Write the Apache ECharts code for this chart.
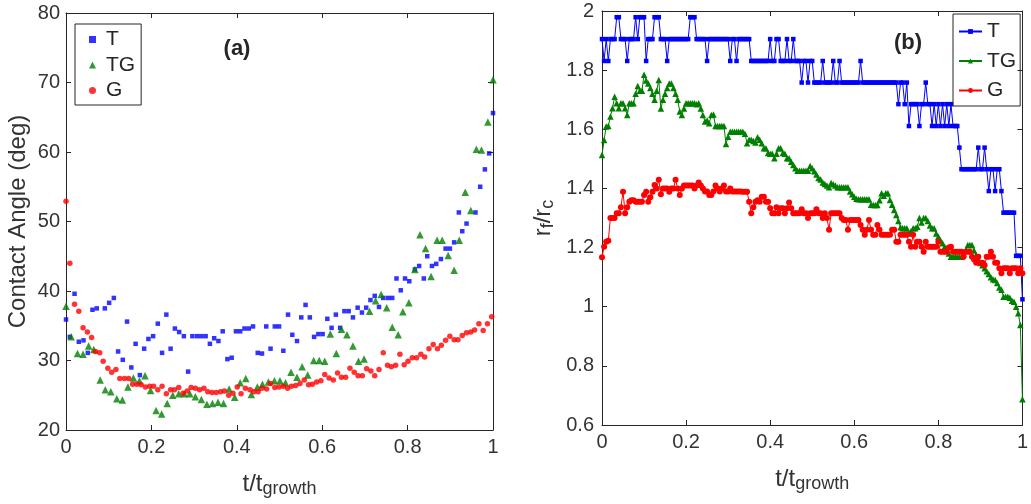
<!DOCTYPE html>
<html><head><meta charset="utf-8">
<script src="https://cdn.jsdelivr.net/npm/echarts@6/dist/echarts.min.js"></script>
<style>html,body{margin:0;padding:0;background:#fff}#c{width:1031px;height:504px}</style>
</head><body><div id="c"></div>
<script>
// ---------- Panel (a): contact angle (deg) vs t/t_growth ----------
const aT_x = [0,0.009,0.020,0.030,0.041,0.051,0.062,0.072,0.091,0.101,0.112,0.122,0.133,0.143,0.153,0.163,0.173,0.183,0.193,0.204,0.215,0.225,0.235,0.245,0.255,0.265,0.276,0.286,0.296,0.307,0.317,0.327,0.337,0.347,0.357,0.367,0.378,0.388,0.398,0.408,0.418,0.428,0.438,0.449,0.459,0.469,0.479,0.489,0.499,0.509,0.520,0.530,0.541,0.551,0.561,0.571,0.581,0.591,0.601,0.612,0.622,0.632,0.642,0.652,0.662,0.672,0.683,0.693,0.703,0.713,0.723,0.733,0.743,0.754,0.764,0.774,0.784,0.794,0.804,0.817,0.827,0.838,0.846,0.857,0.867,0.878,0.889,0.899,0.909,0.920,0.928,0.938,0.959,0.970,0.981,0.991,1.0];
const aT_y = [35.9,33.4,39.6,32.7,32.9,31.1,37.3,37.5,37.5,38.3,39.0,31.3,30.1,35.6,29.0,32.4,27.9,31.7,33.1,33.5,35.3,31.1,36.6,31.7,34.6,34.1,33.5,28.4,33.5,33.5,33.5,33.5,32.4,33.2,32.8,34.2,30.2,30.4,34.2,34.2,34.6,34.6,34.9,31.1,31.0,34.9,31.7,34.9,34.9,31.4,36.6,33.7,32.8,36.2,38.0,36.2,33.4,33.8,33.8,36.0,34.7,36.6,34.7,37.1,37.1,36.2,37.6,36.9,37.6,38.7,39.3,37.7,39.0,39.0,39.0,41.8,40.1,41.8,41.4,43.1,43.6,41.8,45.0,43.6,43.9,44.6,46.1,46.1,47.0,51.3,48.6,49.7,51.3,55.0,57.5,59.8,65.6];
const aTG_x = [0,0.012,0.027,0.040,0.053,0.065,0.080,0.092,0.105,0.119,0.132,0.145,0.158,0.172,0.185,0.198,0.211,0.224,0.237,0.250,0.264,0.277,0.290,0.303,0.317,0.330,0.343,0.356,0.369,0.382,0.395,0.408,0.421,0.434,0.448,0.460,0.474,0.488,0.501,0.514,0.527,0.541,0.553,0.566,0.580,0.593,0.606,0.619,0.633,0.645,0.658,0.672,0.685,0.698,0.711,0.725,0.738,0.751,0.764,0.778,0.789,0.803,0.817,0.829,0.842,0.855,0.869,0.881,0.895,0.909,0.921,0.935,0.948,0.961,0.973,0.988,1.0];
const aTG_y = [37.8,33.4,31.0,30.9,32.1,31.6,27.2,25.8,25.5,24.5,24.3,26.2,27.5,27.1,27.8,25.7,22.8,22.3,23.8,25.0,25.2,25.2,25.2,24.8,24.4,23.7,23.8,24.0,23.8,25.9,24.7,26.8,27.4,25.1,26.2,26.6,26.9,27.1,27.1,26.8,28.3,27.6,29.1,27.9,30.0,30.0,29.9,33.8,31.0,34.5,33.7,32.1,29.9,30.2,37.1,38.6,39.5,37.6,34.8,33.7,37.0,38.3,43.1,48.1,46.1,42.1,47.3,47.3,45.1,43.0,47.3,54.2,51.6,60.4,60.3,64.3,70.4];
const aG_x = [0,0.009,0.020,0.030,0.040,0.050,0.060,0.069,0.079,0.087,0.098,0.107,0.117,0.126,0.137,0.147,0.156,0.166,0.176,0.186,0.196,0.205,0.215,0.225,0.235,0.245,0.254,0.264,0.274,0.284,0.293,0.303,0.313,0.323,0.332,0.342,0.352,0.362,0.371,0.381,0.391,0.401,0.410,0.420,0.431,0.440,0.450,0.459,0.470,0.479,0.489,0.499,0.509,0.519,0.528,0.538,0.548,0.558,0.568,0.577,0.587,0.597,0.606,0.616,0.626,0.636,0.645,0.655,0.665,0.675,0.684,0.694,0.704,0.714,0.723,0.733,0.743,0.753,0.762,0.772,0.782,0.792,0.801,0.811,0.821,0.831,0.840,0.850,0.860,0.870,0.879,0.889,0.899,0.909,0.918,0.928,0.938,0.948,0.957,0.967,0.977,0.987,0.997];
const aG_y = [52.9,44.0,38.1,37.1,34.7,34.1,33.3,31.3,31.1,29.9,28.9,28.3,28.7,27.4,27.4,27.4,26.6,26.6,26.5,26.2,26.3,26.3,25.8,26.3,25.2,25.8,25.8,26.1,25.3,25.6,26.1,26.0,25.8,26.0,25.5,25.4,25.4,25.5,25.6,25.0,25.3,26.2,25.2,26.0,25.8,25.5,25.5,26.0,25.9,26.7,26.1,26.2,26.3,26.0,26.3,26.4,26.7,27.2,26.5,26.6,26.9,27.1,28.0,27.5,27.2,28.2,27.6,27.6,28.9,28.3,27.8,27.8,28.8,28.5,27.8,28.7,31.1,29.3,29.1,29.3,30.9,29.4,29.9,30.4,30.4,30.9,30.5,31.7,32.3,31.7,32.2,32.9,33.5,33.0,33.0,33.6,34.0,34.1,34.4,35.3,34.3,35.3,36.3];

// ---------- Panel (b): r_f/r_c vs t/t_growth (201 samples, 0..1) ----------
const bT = [
1.905,1.831,1.905,1.831,1.905,1.905,1.905,1.979,1.979,1.905,
1.905,1.905,1.831,1.905,1.905,1.905,1.979,1.905,1.979,1.979,
1.979,1.831,1.905,1.905,1.905,1.979,1.979,1.979,1.905,1.905,
1.905,1.831,1.905,1.905,1.905,1.905,1.905,1.905,1.905,1.905,
1.905,1.905,1.979,1.979,1.979,1.905,1.905,1.905,1.905,1.905,
1.831,1.905,1.905,1.905,1.905,1.905,1.905,1.905,1.905,1.905,
1.905,1.831,1.905,1.905,1.831,1.905,1.905,1.905,1.905,1.905,
1.905,1.831,1.831,1.831,1.831,1.831,1.831,1.831,1.831,1.831,
1.905,1.831,1.831,1.905,1.905,1.831,1.831,1.831,1.905,1.831,
1.831,1.905,1.831,1.831,1.831,1.758,1.831,1.831,1.758,1.831,
1.831,1.758,1.758,1.758,1.758,1.831,1.758,1.758,1.758,1.758,
1.831,1.758,1.758,1.831,1.758,1.758,1.758,1.758,1.758,1.758,
1.758,1.758,1.758,1.831,1.758,1.758,1.758,1.758,1.758,1.758,
1.758,1.758,1.758,1.758,1.758,1.758,1.758,1.758,1.758,1.758,
1.758,1.685,1.758,1.758,1.685,1.758,1.611,1.685,1.685,1.685,
1.685,1.611,1.685,1.685,1.758,1.685,1.685,1.611,1.685,1.611,
1.685,1.611,1.685,1.611,1.685,1.611,1.685,1.611,1.611,1.611,
1.538,1.465,1.465,1.465,1.465,1.465,1.465,1.465,1.465,1.538,
1.465,1.465,1.538,1.465,1.391,1.465,1.465,1.391,1.465,1.465,
1.391,1.318,1.318,1.318,1.318,1.318,1.318,1.172,1.172,1.172,
1.025];
const bTG = [
1.513,1.564,1.609,1.611,1.643,1.671,1.71,1.688,1.671,1.688,
1.688,1.671,1.648,1.688,1.688,1.688,1.72,1.746,1.73,1.73,
1.784,1.765,1.755,1.74,1.72,1.70,1.73,1.767,1.67,1.70,
1.72,1.74,1.755,1.755,1.74,1.72,1.70,1.66,1.648,1.67,
1.688,1.688,1.688,1.688,1.688,1.685,1.688,1.67,1.648,1.626,
1.63,1.62,1.648,1.65,1.611,1.611,1.611,1.611,1.611,1.55,
1.575,1.592,1.592,1.592,1.592,1.592,1.592,1.592,1.585,1.553,
1.565,1.565,1.56,1.555,1.573,1.565,1.553,1.536,1.536,1.52,
1.517,1.517,1.502,1.517,1.536,1.536,1.52,1.517,1.502,1.502,
1.49,1.479,1.468,1.46,1.46,1.46,1.46,1.46,1.46,1.476,
1.468,1.458,1.447,1.435,1.43,1.42,1.415,1.41,1.404,1.418,
1.414,1.41,1.404,1.404,1.404,1.404,1.404,1.404,1.39,1.38,
1.372,1.365,1.363,1.363,1.363,1.363,1.363,1.363,1.345,1.344,
1.344,1.344,1.36,1.384,1.375,1.384,1.384,1.361,1.345,1.327,
1.31,1.29,1.269,1.265,1.265,1.265,1.248,1.255,1.265,1.265,
1.27,1.30,1.285,1.30,1.30,1.29,1.275,1.265,1.265,1.248,
1.237,1.225,1.215,1.203,1.19,1.18,1.169,1.169,1.169,1.169,
1.169,1.169,1.18,1.19,1.209,1.209,1.209,1.19,1.175,1.16,
1.148,1.14,1.13,1.12,1.111,1.10,1.093,1.09,1.08,1.065,
1.057,1.034,1.034,1.034,1.03,1.02,1.017,1.0,0.978,0.938,
0.687];
const bG = [
1.167,1.203,1.22,1.223,1.30,1.30,1.30,1.316,1.316,1.336,
1.389,1.316,1.336,1.355,1.36,1.36,1.355,1.355,1.355,1.355,
1.378,1.389,1.355,1.37,1.389,1.412,1.40,1.429,1.38,1.40,
1.40,1.40,1.389,1.40,1.40,1.429,1.40,1.378,1.40,1.41,
1.41,1.41,1.41,1.41,1.40,1.41,1.42,1.41,1.40,1.39,
1.39,1.378,1.378,1.39,1.41,1.40,1.39,1.40,1.41,1.39,
1.39,1.40,1.39,1.39,1.39,1.39,1.39,1.389,1.389,1.389,
1.355,1.316,1.336,1.355,1.36,1.355,1.372,1.372,1.355,1.355,
1.333,1.316,1.316,1.336,1.316,1.333,1.333,1.316,1.333,1.352,
1.333,1.316,1.316,1.316,1.316,1.33,1.316,1.316,1.30,1.316,
1.316,1.316,1.33,1.316,1.316,1.30,1.316,1.30,1.26,1.316,
1.316,1.316,1.316,1.316,1.30,1.293,1.293,1.26,1.293,1.293,
1.293,1.293,1.293,1.276,1.26,1.243,1.26,1.293,1.26,1.243,
1.243,1.276,1.26,1.243,1.243,1.243,1.243,1.243,1.26,1.26,
1.22,1.22,1.243,1.243,1.243,1.243,1.22,1.203,1.243,1.203,
1.22,1.22,1.203,1.186,1.22,1.203,1.203,1.203,1.203,1.203,
1.22,1.186,1.186,1.186,1.186,1.2,1.203,1.186,1.186,1.186,
1.186,1.186,1.169,1.186,1.186,1.186,1.169,1.16,1.149,1.169,
1.149,1.149,1.14,1.169,1.169,1.186,1.169,1.149,1.149,1.13,
1.113,1.13,1.13,1.13,1.113,1.13,1.13,1.13,1.113,1.13,
1.113];

const seriesNames = ['T', 'TG', 'G'];
const xTicks = [0, 0.2, 0.4, 0.6, 0.8, 1];
const yTicksA = [20, 30, 40, 50, 60, 70, 80];
const yTicksB = [0.6, 0.8, 1, 1.2, 1.4, 1.6, 1.8, 2];

// ---------- build ----------
const FONT = '"Liberation Sans", Arial, Helvetica, sans-serif';
const AX = '#262626';
const TXT = '#333333';
const pairs = (xs, ys) => xs.map((x, i) => [x, ys[i]]).filter(p => p[1] !== undefined);
const bGrid = bT.map((_, i) => i / (bT.length - 1));
const fmt = v => String(Math.round(v * 10) / 10);

const rich = {
  m: { fontSize: 24, lineHeight: 26, verticalAlign: 'top', color: TXT, fontFamily: FONT },
  s: { fontSize: 18, lineHeight: 20, verticalAlign: 'bottom', padding: [18, 0, 0, 0], color: TXT, fontFamily: FONT }
};

function axisPair(dim, gridIndex, ticks, extra) {
  const step = Math.round((ticks[1] - ticks[0]) * 1000) / 1000;
  const base = {
    gridIndex, type: 'value', min: ticks[0], max: ticks[ticks.length - 1], interval: step,
    splitLine: { show: false },
    axisLine: { show: true, onZero: false, lineStyle: { color: AX, width: 1 } },
    axisTick: { show: true, inside: true, length: 5, lineStyle: { color: AX, width: 1 } }
  };
  const main = Object.assign({}, base, {
    position: dim === 'x' ? 'bottom' : 'left',
    axisLabel: { fontSize: 20, color: TXT, fontFamily: FONT, margin: dim === 'x' ? 7 : 6, formatter: fmt }
  }, extra);
  const opp = Object.assign({}, base, {
    position: dim === 'x' ? 'top' : 'right',
    axisLabel: { show: false }
  });
  return [main, opp];
}

const xA = axisPair('x', 0, xTicks, { name: '{m|t/t}{s|growth}', nameLocation: 'middle', nameGap: 33, nameTextStyle: { rich } });
const xB = axisPair('x', 1, xTicks, { name: '{m|t/t}{s|growth}', nameLocation: 'middle', nameGap: 37, nameTextStyle: { rich } });
const yA = axisPair('y', 0, yTicksA, { name: 'Contact Angle (deg)', nameLocation: 'middle', nameGap: 36, nameTextStyle: { fontSize: 24, color: TXT, fontFamily: FONT } });
const yB = axisPair('y', 1, yTicksB, { name: '{m|r}{s|f}{m|/r}{s|c}', nameLocation: 'middle', nameGap: 45, nameTextStyle: { rich } });
yB[0].axisLabel.margin = 8;

const colors = ['#0000ff', '#008000', '#ff0000'];
const aSym = [['rect', 4.5], ['triangle', 7.5], ['circle', 5.5]];
const bSym = [['rect', 4.5], ['triangle', 6.5], ['circle', 6]];
const aData = [pairs(aT_x, aT_y), pairs(aTG_x, aTG_y), pairs(aG_x, aG_y)];
const bData = [bT, bTG, bG].map(arr => pairs(bGrid, arr));

const series = [];
aData.forEach((d, k) => series.push({
  type: 'scatter', name: seriesNames[k], xAxisIndex: 0, yAxisIndex: 0, data: d,
  symbol: aSym[k][0], symbolSize: aSym[k][1], itemStyle: { color: colors[k] }, animation: false
}));
bData.forEach((d, k) => series.push({
  type: 'line', name: seriesNames[k] + '(b)', xAxisIndex: 2, yAxisIndex: 2, data: d,
  symbol: bSym[k][0], symbolSize: bSym[k][1], showSymbol: true, showAllSymbol: true,
  lineStyle: { color: colors[k], width: 1 }, itemStyle: { color: colors[k] }, animation: false
}));

const legendText = { fontSize: 21, lineHeight: 25, color: AX, fontFamily: FONT };
const option = {
  backgroundColor: '#ffffff',
  animation: false,
  grid: [
    { left: 66, top: 13, width: 427, height: 417, containLabel: false },
    { left: 602, top: 11, width: 421, height: 414, containLabel: false }
  ],
  xAxis: [xA[0], xA[1], xB[0], xB[1]],
  yAxis: [yA[0], yA[1], yB[0], yB[1]],
  legend: [
    { data: seriesNames.slice(), orient: 'vertical', left: 75, top: 24, padding: [3, 6, 2, 14], itemGap: 0.5,
      itemWidth: 7, itemHeight: 7, borderColor: AX, borderWidth: 1, selectedMode: false,
      textStyle: Object.assign({ padding: [0, 0, 0, 5] }, legendText) },
    { data: seriesNames.map(n => n + '(b)'), orient: 'vertical', left: 953, top: 14, padding: [5, 4, 3, 5], itemGap: 4.5,
      itemWidth: 23, itemHeight: 6, borderColor: AX, borderWidth: 1, selectedMode: false,
      formatter: n => n.replace('(b)', ''), textStyle: legendText }
  ],
  graphic: [
    { type: 'text', x: 237, y: 49, style: { text: '(a)', fontSize: 22, fontWeight: 'bold', fontFamily: FONT, fill: AX, align: 'center', verticalAlign: 'middle' } },
    { type: 'text', x: 908, y: 43, style: { text: '(b)', fontSize: 22, fontWeight: 'bold', fontFamily: FONT, fill: AX, align: 'center', verticalAlign: 'middle' } }
  ],
  series
};
const chart = echarts.init(document.getElementById('c'), null, { renderer: 'canvas' });
chart.setOption(option);
</script></body></html>
